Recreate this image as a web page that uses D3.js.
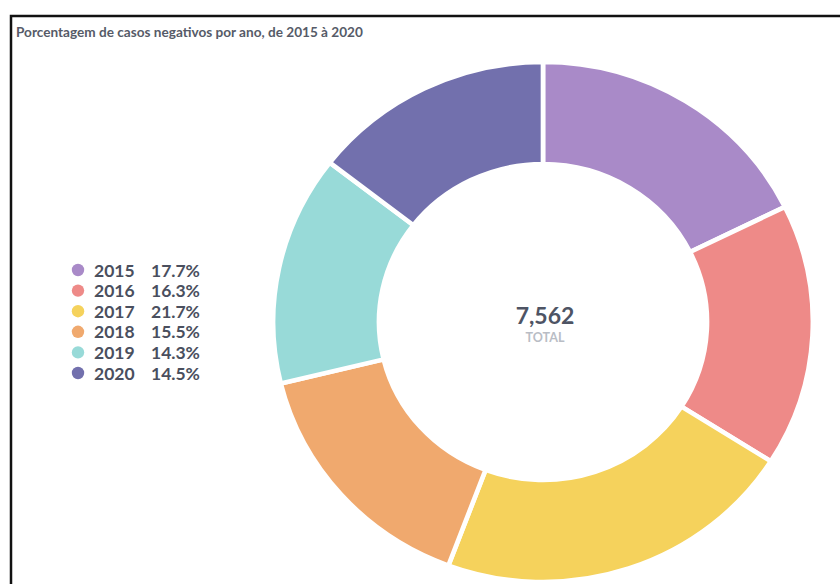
<!DOCTYPE html>
<html>
<head>
<meta charset="utf-8">
<script src="https://cdn.jsdelivr.net/npm/d3@7/dist/d3.min.js"></script>
<style>
  html, body { margin: 0; padding: 0; background: #fff; }
  svg { display: block; font-family: Lato, "Open Sans", sans-serif; }
</style>
</head>
<body>
<svg id="chart" width="840" height="584"></svg>
<script>
// Negative cases per year, share of total (%)
const years = ["2015", "2016", "2017", "2018", "2019", "2020"];
const shares = [17.7, 16.3, 21.7, 15.5, 14.3, 14.5];
const colors = ["#a98ac8", "#ee8a88", "#f5d25c", "#f0a96e", "#98dad8", "#7270ad"];
const totalCases = 7562;
const titleText = "Porcentagem de casos negativos por ano, de 2015 à 2020";

const svg = d3.select("#chart");

// Frame
svg.append("rect")
  .attr("x", 11).attr("y", 16)
  .attr("width", 900).attr("height", 700)
  .attr("fill", "none")
  .attr("stroke", "#111")
  .attr("stroke-width", 2.5);

// Title
svg.append("text")
  .attr("x", 16).attr("y", 37)
  .attr("font-size", 13.6)
  .attr("font-weight", 700)
  .attr("fill", "#565b68")
  .text(titleText);

// Donut
const cx = 543, cy = 322;
const outerR = 260, innerR = 158;
const color = d3.scaleOrdinal().domain(years).range(colors);

const pie = d3.pie().value(d => d.share).sort(null);
const arc = d3.arc().innerRadius(innerR).outerRadius(outerR);
const data = years.map((y, i) => ({ year: y, share: shares[i] }));

const donut = svg.append("g")
  .attr("transform", `translate(${cx},${cy}) scale(1.038,1)`);

donut.selectAll("path")
  .data(pie(data))
  .join("path")
  .attr("d", arc)
  .attr("fill", d => color(d.data.year))
  .attr("stroke", "#fff")
  .attr("stroke-width", 4.5)
  .attr("stroke-linejoin", "miter");

// Centre total
const fmt = d3.format(",");
svg.append("text")
  .attr("x", cx + 2).attr("y", 324)
  .attr("text-anchor", "middle")
  .attr("font-size", 23)
  .attr("font-weight", 700)
  .attr("fill", "#4e5464")
  .text(fmt(totalCases));
svg.append("text")
  .attr("x", cx + 2).attr("y", 342)
  .attr("text-anchor", "middle")
  .attr("font-size", 12.5)
  .attr("font-weight", 700)
  .attr("fill", "#b9bdc5")
  .text("TOTAL");

// Legend
const rowY = d3.scalePoint().domain(years).range([270, 373]);
const legend = svg.append("g");
const rows = legend.selectAll("g")
  .data(data)
  .join("g")
  .attr("transform", d => `translate(0,${rowY(d.year)})`);

rows.append("circle")
  .attr("cx", 78).attr("cy", 0).attr("r", 6.2)
  .attr("fill", d => color(d.year));

rows.append("text")
  .attr("x", 94).attr("y", 6.5)
  .attr("font-size", 17.5)
  .attr("font-weight", 700)
  .attr("fill", "#4a4f5e")
  .text(d => d.year);

rows.append("text")
  .attr("x", 151).attr("y", 6.5)
  .attr("font-size", 17.5)
  .attr("font-weight", 700)
  .attr("fill", "#4a4f5e")
  .text(d => d.share.toFixed(1) + "%");
</script>
</body>
</html>
